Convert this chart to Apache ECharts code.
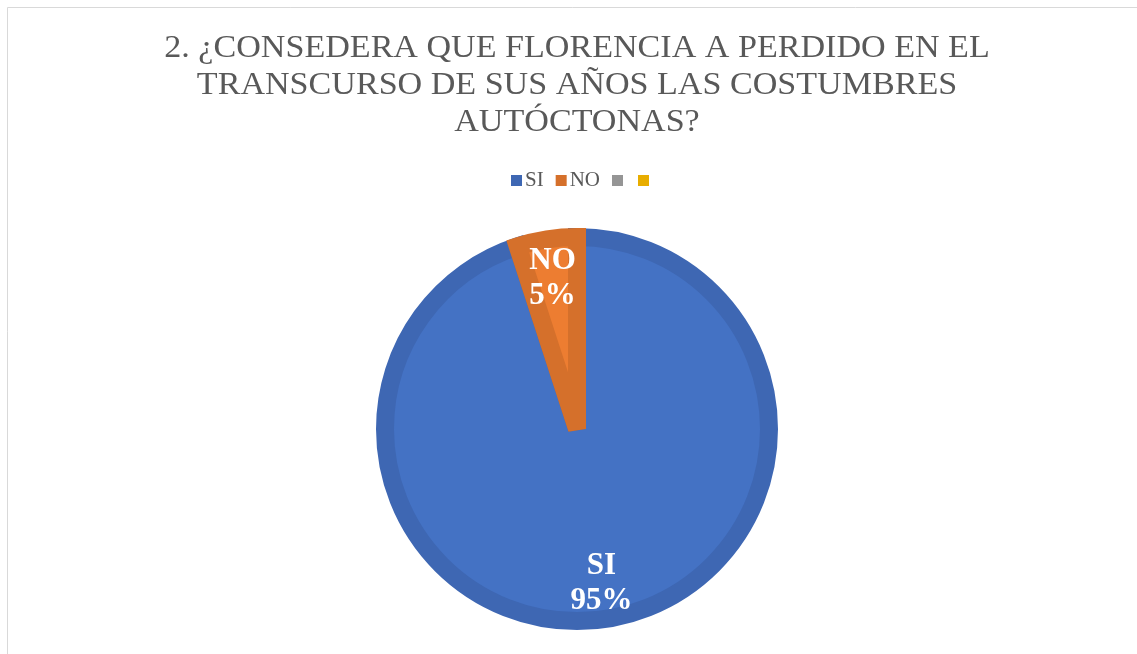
<!DOCTYPE html>
<html>
<head>
<meta charset="utf-8">
<script src="https://cdn.jsdelivr.net/npm/echarts@6/dist/echarts.min.js"></script>
<style>
html,body{margin:0;padding:0;background:#fff;}
#chart{width:1137px;height:654px;}
</style>
</head>
<body>
<div id="chart"></div>
<script>
var titleLines = ['2. ¿CONSEDERA QUE FLORENCIA A PERDIDO EN EL', 'TRANSCURSO DE SUS AÑOS LAS COSTUMBRES', 'AUTÓCTONAS?'];
var categories = ['SI', 'NO', '\u200b', '\u200b\u200b'];
var values = [95, 5, 0, 0];
var percentLabels = ['95%', '5%', '', ''];
var fillColors = ['#4472C4', '#ED7D31', '#A5A5A5', '#FFC000'];
var bandColors = ['#3E67B3', '#D5702B', '#959595', '#E8AD00'];

// label nudges (style only)
var labelOffsets = [[0, 0], [0, 4], [0, 0], [0, 0]];

var chart = echarts.init(document.getElementById('chart'), null, {renderer: 'canvas'});
var mainData = categories.map(function (c, i) {
  return {
    name: c, value: values[i],
    itemStyle: {color: fillColors[i], borderColor: bandColors[i], borderWidth: values[i] > 0 ? 18 : 0, borderJoin: 'miter', borderMiterLimit: 2}
  };
});
var labelData = categories.map(function (c, i) {
  return {
    name: c, value: values[i],
    label: {show: values[i] > 0, formatter: c + '\n' + percentLabels[i], offset: labelOffsets[i]}
  };
});
var legendData = categories.map(function (c, i) {
  return {name: c, itemStyle: {color: bandColors[i], borderWidth: 0}};
});
chart.setOption({
  backgroundColor: '#fff',
  animation: false,
  color: fillColors,
  legend: {
    data: legendData,
    top: 165, left: 506,
    itemWidth: 11, itemHeight: 11, itemGap: 12,
    icon: 'rect',
    itemStyle: {borderWidth: 0},
    textStyle: {fontFamily: 'Liberation Serif', fontSize: 21, color: '#595959', padding: [0, 0, 0, -2]}
  },
  graphic: [{
    type: 'rect', silent: true,
    shape: {x: 7.5, y: 7.5, width: 1200, height: 700},
    style: {fill: 'none', stroke: '#D9D9D9', lineWidth: 1}
  }, {
    type: 'text', silent: true,
    x: 577, y: 30, scaleX: 1.065,
    style: {
      text: titleLines.join('\n'),
      font: 'normal 32px "Liberation Serif"',
      fill: '#595959', lineHeight: 37,
      align: 'center', verticalAlign: 'top'
    }
  }],
  series: [{
    type: 'pie',
    center: [577, 429],
    radius: [0, 192],
    startAngle: 90,
    clockwise: true,
    stillShowZeroSum: false,
    label: {show: false},
    labelLine: {show: false},
    emphasis: {disabled: true},
    data: mainData
  }, {
    type: 'pie',
    center: [577, 429],
    radius: [105, 201],
    startAngle: 90,
    clockwise: true,
    silent: true,
    itemStyle: {color: 'rgba(0,0,0,0)'},
    label: {
      position: 'inside',
      fontFamily: 'Liberation Serif', fontWeight: 'bold', fontSize: 31, lineHeight: 35,
      color: '#fff', textBorderWidth: 0
    },
    labelLine: {show: false},
    emphasis: {disabled: true},
    data: labelData
  }]
});
</script>
</body>
</html>
